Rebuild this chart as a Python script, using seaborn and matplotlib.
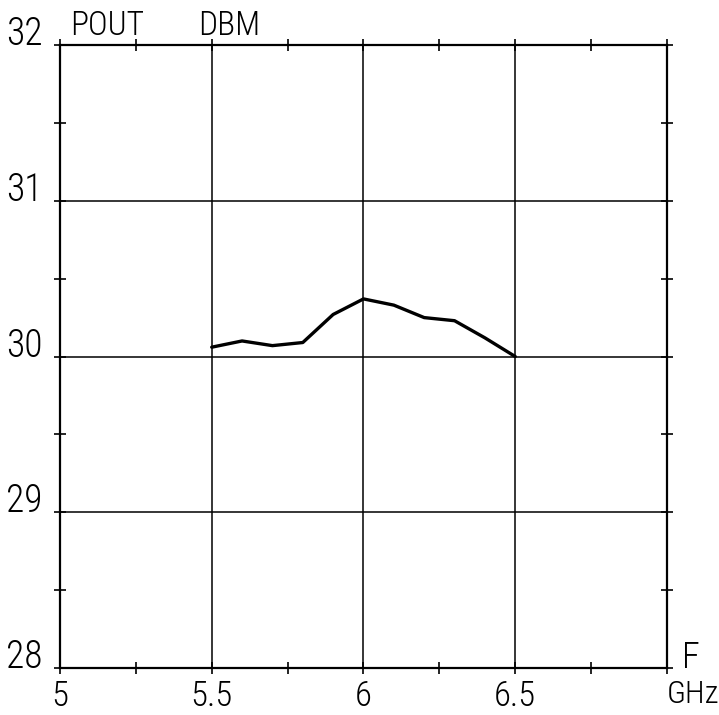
import matplotlib
matplotlib.use("Agg")
import matplotlib.pyplot as plt
import seaborn as sns
import pandas as pd
from matplotlib.ticker import MultipleLocator, FixedLocator, FixedFormatter

# Output power versus frequency
freq_ghz = [5.5, 5.6, 5.7, 5.8, 5.9, 6.0, 6.1, 6.2, 6.3, 6.4, 6.5]
pout_dbm = [30.06, 30.10, 30.07, 30.09, 30.27, 30.37, 30.33, 30.25, 30.23, 30.12, 30.00]

x_ticks = [5, 5.5, 6, 6.5, 7]
x_tick_labels = ["5", "5.5", "6", "6.5", "GHz"]
y_ticks = [28, 29, 30, 31, 32]
y_tick_labels = ["28", "29", "30", "31", "32"]

sns.set_style("white")
plt.rcParams["font.family"] = ["Roboto Condensed", "Liberation Sans Narrow", "DejaVu Sans"]
plt.rcParams["font.weight"] = "light"
plt.rcParams["text.color"] = "black"
plt.rcParams["xtick.color"] = "black"
plt.rcParams["ytick.color"] = "black"

df = pd.DataFrame({"F": freq_ghz, "POUT": pout_dbm})

fig = plt.figure(figsize=(7.19, 7.15), dpi=100)
ax = fig.add_axes([0.0834, 0.0657, 0.8443, 0.8713])

sns.lineplot(data=df, x="F", y="POUT", ax=ax, color="black", linewidth=2.4)

ax.set_xlim(5, 7)
ax.set_ylim(28, 32)
ax.xaxis.set_major_locator(FixedLocator(x_ticks))
ax.xaxis.set_major_formatter(FixedFormatter(x_tick_labels))
ax.yaxis.set_major_locator(FixedLocator(y_ticks))
ax.yaxis.set_major_formatter(FixedFormatter(y_tick_labels))
ax.xaxis.set_minor_locator(MultipleLocator(0.25))
ax.yaxis.set_minor_locator(MultipleLocator(0.5))

ax.grid(True, which="major", color="black", linewidth=1.1)
for s in ax.spines.values():
    s.set_color("black")
    s.set_linewidth(1.6)

ax.tick_params(which="both", direction="inout", top=True, right=True,
               bottom=True, left=True, color="black", width=1.2, length=9)
ax.tick_params(axis="y", which="major", labelsize=27, pad=8)
ax.tick_params(axis="x", which="major", labelsize=25, pad=4)

ax.set_xlabel("")
ax.set_ylabel("")

# y labels sit on their gridlines; the unit label starts at the last tick
for lbl in ax.get_yticklabels():
    lbl.set_verticalalignment("baseline")
unit_lbl = ax.get_xticklabels()[-1]
unit_lbl.set_horizontalalignment("left")
unit_lbl.set_fontsize(23)

# axis captions placed as on a plotter chart
ax.text(0.0165, 1.016, "POUT", transform=ax.transAxes, fontsize=24,
        ha="left", va="baseline")
ax.text(0.227, 1.016, "DBM", transform=ax.transAxes, fontsize=24,
        ha="left", va="baseline")
ax.text(1.0247, 0.0, "F", transform=ax.transAxes, fontsize=26,
        ha="left", va="baseline")

fig.savefig("out.png", dpi=100)
